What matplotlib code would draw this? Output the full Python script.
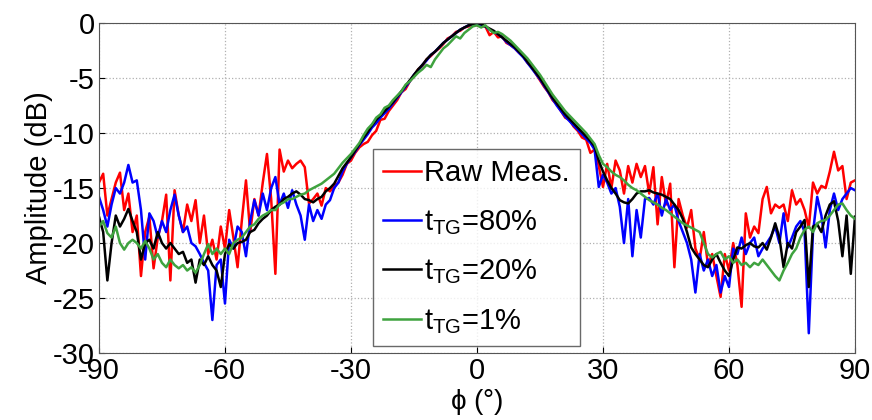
import numpy as np
import matplotlib
matplotlib.use("Agg")
import matplotlib.pyplot as plt

plt.rcParams['font.family'] = ['Liberation Sans', 'DejaVu Sans']
plt.rcParams['mathtext.fontset'] = 'custom'
plt.rcParams['mathtext.rm'] = 'Liberation Sans'
plt.rcParams['axes.unicode_minus'] = False

# angle in degrees, 1 deg steps
phi = np.arange(-90, 91, 1)

# measured (raw) pattern
raw = [
    -14.5, -13.7, -17.5, -16.0, -14.5, -13.6, -17.0, -15.5, -19.0, -17.5,   # -90
    -23.0, -19.0, -17.6, -22.3, -19.5, -18.0, -15.6, -23.4, -15.2, -17.5,   # -80
    -19.0, -16.5, -18.0, -16.1, -20.0, -17.5, -21.0, -19.7, -21.5, -18.5,   # -70
    -20.5, -17.0, -19.5, -22.2, -18.0, -14.3, -19.0, -16.0, -17.5, -14.5,   # -60
    -11.9, -16.0, -22.8, -11.5, -13.5, -12.5, -13.2, -12.8, -12.5, -13.1,   # -50
    -16.4, -16.0, -15.5, -16.6, -15.0, -15.3, -14.8, -14.5, -13.8, -12.8,   # -40
    -12.5, -11.8, -11.3, -11.0, -10.8, -10.2, -9.8, -8.8, -8.7, -8.0,       # -30
    -7.5, -7.0, -6.3, -6.0, -5.3, -4.8, -4.2, -3.9, -3.3, -3.0,             # -20
    -2.6, -2.3, -1.9, -1.4, -1.2, -0.8, -0.7, -0.4, -0.3, -0.1,             # -10
    -0.2, -0.3, -0.3, -1.1, -0.8, -1.3, -1.2, -1.8, -2.0, -2.3,             # 0
    -2.7, -3.0, -3.6, -4.0, -4.6, -5.2, -5.8, -6.3, -7.0, -7.4,             # 10
    -8.0, -8.6, -8.8, -9.4, -9.8, -10.4, -10.6, -11.8, -11.5, -13.0,        # 20
    -14.9, -12.8, -15.0, -12.5, -13.4, -15.5, -13.0, -14.5, -12.8, -14.0,   # 30
    -13.0, -15.5, -13.1, -18.3, -14.0, -16.5, -14.6, -22.2, -16.0, -17.5,   # 40
    -18.6, -17.0, -20.5, -21.5, -19.0, -22.0, -21.0, -23.0, -24.9, -21.0,   # 50
    -22.5, -20.0, -22.0, -25.8, -17.3, -19.5, -18.5, -19.1, -16.0, -14.9,   # 60
    -17.3, -16.5, -16.8, -16.5, -18.0, -15.2, -16.5, -16.0, -17.0, -18.6,   # 70
    -14.5, -15.5, -14.8, -15.0, -13.5, -11.7, -13.4, -13.0, -16.0, -14.5,   # 80
    -14.3,                                                                  # 90
]

# t_TG = 80 %
tg80 = [
    -15.8, -17.0, -18.5, -16.5, -15.0, -15.5, -14.5, -12.9, -14.5, -14.3,   # -90
    -17.0, -21.5, -17.3, -18.0, -19.5, -18.0, -19.0, -17.0, -15.6, -17.5,   # -80
    -19.0, -18.5, -20.0, -20.3, -21.0, -21.8, -22.5, -27.0, -22.0, -21.5,   # -70
    -25.5, -19.7, -20.5, -18.5, -19.0, -21.2, -18.0, -16.1, -17.5, -15.5,   # -60
    -17.0, -15.0, -14.0, -16.5, -15.5, -16.8, -15.2, -16.5, -17.5, -19.7,   # -50
    -16.5, -18.0, -17.0, -17.8, -16.5, -16.1, -15.0, -14.5, -13.5, -12.8,   # -40
    -12.2, -11.7, -11.1, -10.6, -10.1, -9.5, -9.1, -8.6, -8.2, -7.8,        # -30
    -7.3, -6.8, -6.3, -5.8, -5.3, -4.7, -4.3, -3.8, -3.4, -2.9,             # -20
    -2.6, -2.2, -1.8, -1.5, -1.2, -0.9, -0.6, -0.4, -0.2, -0.1,             # -10
    -0.1, -0.2, -0.3, -0.6, -0.8, -1.0, -1.3, -1.7, -2.0, -2.3,             # 0
    -2.7, -3.1, -3.6, -4.1, -4.6, -5.1, -5.7, -6.3, -6.9, -7.5,             # 10
    -8.0, -8.5, -8.9, -9.3, -9.7, -10.1, -10.5, -10.9, -11.5, -14.9,        # 20
    -13.8, -14.5, -15.5, -15.0, -16.7, -20.0, -16.0, -21.2, -17.0, -19.5,   # 30
    -16.0, -15.9, -16.5, -15.5, -17.5, -16.0, -17.0, -16.5, -18.0, -19.0,   # 40
    -20.0, -21.5, -24.5, -21.0, -22.5, -21.5, -23.0, -22.0, -24.5, -23.0,   # 50
    -24.0, -20.5, -21.0, -19.5, -21.0, -20.0, -19.5, -21.2, -20.5, -20.0,   # 60
    -19.4, -18.5, -20.0, -17.3, -20.4, -19.5, -18.5, -18.0, -19.0, -28.2,   # 70
    -19.0, -15.8, -17.5, -20.4, -17.0, -15.5, -17.0, -16.0, -15.5, -15.0,   # 80
    -15.2,                                                                  # 90
]

# t_TG = 20 %
tg20 = [
    -17.6, -19.0, -23.4, -20.0, -17.5, -18.5, -17.8, -16.9, -18.0, -19.0,   # -90
    -21.5, -20.0, -19.7, -20.5, -19.0, -20.0, -20.5, -20.0, -20.5, -21.0,   # -80
    -20.8, -21.8, -21.5, -23.6, -21.5, -22.0, -21.2, -22.0, -22.5, -24.0,   # -70
    -21.0, -20.1, -20.5, -20.0, -19.9, -19.7, -19.0, -18.8, -18.2, -17.8,   # -60
    -17.5, -17.0, -16.7, -16.5, -16.0, -15.8, -15.5, -15.3, -15.6, -16.0,   # -50
    -16.1, -16.3, -16.0, -15.8, -15.3, -15.0, -14.6, -13.9, -13.2, -12.7,   # -40
    -12.2, -11.6, -11.0, -10.4, -9.9, -9.3, -8.8, -8.4, -8.0, -7.6,         # -30
    -7.2, -6.7, -6.2, -5.7, -5.2, -4.7, -4.2, -3.8, -3.3, -2.9,             # -20
    -2.6, -2.2, -1.8, -1.5, -1.2, -0.9, -0.6, -0.4, -0.2, -0.1,             # -10
    0.0, -0.1, -0.3, -0.5, -0.7, -1.0, -1.3, -1.6, -1.9, -2.2,              # 0
    -2.6, -3.0, -3.5, -4.0, -4.5, -5.0, -5.6, -6.2, -6.8, -7.3,             # 10
    -7.8, -8.3, -8.7, -9.1, -9.5, -9.9, -10.3, -10.7, -11.2, -12.5,         # 20
    -13.5, -14.3, -15.0, -15.5, -16.1, -16.3, -16.4, -16.0, -15.5, -15.3,   # 30
    -15.3, -15.2, -15.4, -15.5, -15.6, -15.8, -16.0, -16.5, -17.0, -17.8,   # 40
    -19.0, -20.4, -21.0, -21.5, -22.0, -22.2, -21.5, -21.0, -21.8, -22.5,   # 50
    -23.0, -21.5, -20.4, -20.5, -20.2, -20.0, -20.3, -20.4, -20.0, -20.6,   # 60
    -19.5, -18.2, -19.5, -22.2, -20.0, -20.5, -19.0, -18.5, -17.9, -24.0,   # 70
    -18.5, -18.3, -19.0, -17.5, -16.5, -16.2, -18.0, -21.2, -17.5, -22.8,   # 80
    -17.6,                                                                  # 90
]

# t_TG = 1 %
tg1 = [
    -18.5, -18.0, -19.1, -19.5, -18.5, -20.0, -20.6, -20.0, -19.7, -20.0,   # -90
    -20.5, -19.8, -20.5, -21.5, -21.0, -21.8, -22.2, -21.5, -22.0, -22.3,   # -80
    -22.0, -22.5, -22.2, -22.7, -22.0, -21.0, -20.1, -21.0, -20.5, -21.0,   # -70
    -20.5, -21.0, -20.0, -19.7, -19.5, -19.0, -18.5, -18.3, -17.8, -17.5,   # -60
    -17.3, -17.0, -17.0, -16.5, -16.3, -16.0, -16.0, -15.8, -15.6, -15.5,   # -50
    -15.2, -15.0, -14.8, -14.6, -14.3, -14.0, -13.7, -13.2, -12.7, -12.3,   # -40
    -11.9, -11.4, -10.9, -10.2, -9.6, -9.2, -8.6, -8.3, -7.7, -7.5,         # -30
    -7.0, -6.6, -6.2, -5.6, -5.3, -4.9, -4.5, -4.2, -3.8, -4.0,             # -20
    -3.3, -2.8, -2.3, -2.0, -1.6, -1.2, -1.4, -0.9, -0.6, -0.3,             # -10
    -0.2, -0.4, -0.2, -0.6, -0.9, -0.8, -1.0, -1.3, -1.6, -2.0,             # 0
    -2.4, -2.8, -3.2, -3.7, -4.2, -4.7, -5.3, -5.9, -6.5, -7.0,             # 10
    -7.5, -8.0, -8.4, -8.8, -9.2, -9.6, -10.0, -10.5, -11.0, -12.0,         # 20
    -12.8, -13.1, -13.5, -13.8, -14.0, -14.3, -14.7, -15.0, -15.2, -15.5,   # 30
    -15.8, -16.1, -16.3, -16.5, -16.8, -17.0, -17.3, -17.6, -17.9, -18.2,   # 40
    -18.4, -18.6, -18.8, -19.0, -20.0, -21.0, -21.3, -21.0, -20.8, -21.5,   # 50
    -21.2, -21.8, -21.5, -22.0, -21.8, -22.2, -21.8, -22.0, -21.5, -22.0,   # 60
    -22.5, -23.0, -23.4, -22.5, -21.8, -21.0, -20.5, -19.5, -18.8, -18.5,   # 70
    -19.0, -18.2, -18.0, -17.9, -17.5, -17.0, -16.5, -16.4, -17.0, -17.5,   # 80
    -17.8,                                                                  # 90
]

labels = ['Raw Meas.', r'$\mathregular{t_{TG}}$=80%',
          r'$\mathregular{t_{TG}}$=20%', r'$\mathregular{t_{TG}}$=1%']
colors = ['#ff0000', '#0000ff', '#000000', '#3fa33f']

fig = plt.figure(figsize=(8.72, 4.2), dpi=100)
ax = fig.add_axes([0.1135, 0.1595, 0.867, 0.7855])

for y, lab, c in zip([raw, tg80, tg20, tg1], labels, colors):
    ax.plot(phi, y, color=c, lw=1.8, label=lab)

ax.set_xlim(-90, 90)
ax.set_ylim(-30, 0)
ax.set_xticks(np.arange(-90, 91, 30))
ax.set_yticks(np.arange(-30, 1, 5))
ax.grid(True, color='#b0b0b0', linestyle=':', linewidth=0.9)
ax.tick_params(direction='in', labelsize=21, length=4, pad=3)
for s in ax.spines.values():
    s.set_color('#555555')

ax.set_xlabel(r'$\mathregular{\phi}$ (°)', fontsize=20, labelpad=1)
ax.set_ylabel('Amplitude (dB)', fontsize=21, labelpad=0)

leg = ax.legend(loc='lower left', bbox_to_anchor=(0.362, 0.02), fontsize=21,
                frameon=True, fancybox=False, handlelength=1.3,
                handletextpad=0.1, borderpad=0.35, labelspacing=0.72,
                borderaxespad=0)
leg.get_frame().set_edgecolor('#444444')
leg.get_frame().set_linewidth(1.0)

fig.savefig('out.png', dpi=100)
